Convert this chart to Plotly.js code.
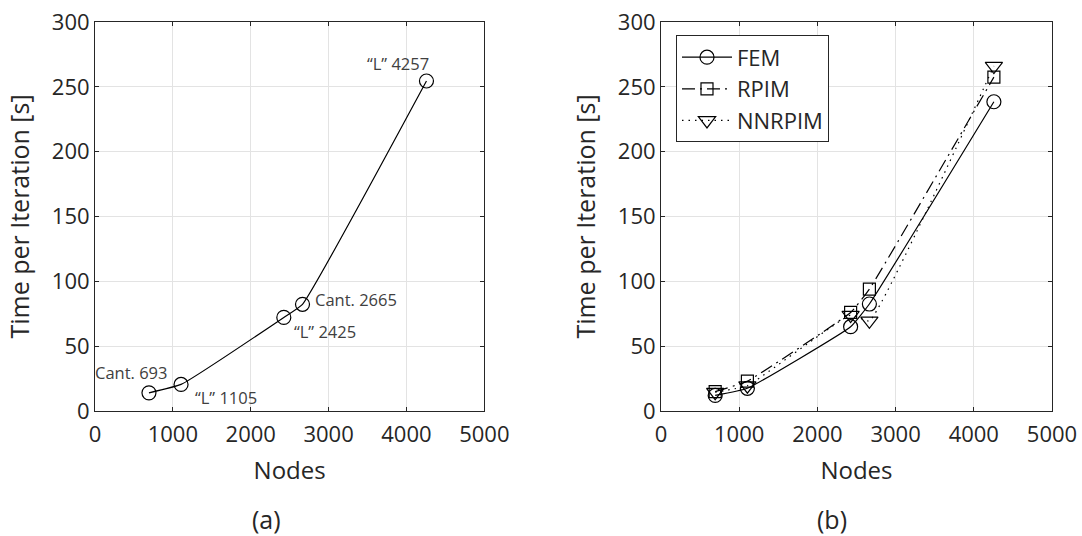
<!DOCTYPE html>
<html>
<head>
<meta charset="utf-8">
<script src="https://cdn.plot.ly/plotly-3.0.1.min.js"></script>
<style>
  html, body { margin: 0; padding: 0; background: #ffffff; }
  #chart { width: 1082px; height: 536px; }
</style>
</head>
<body>
<div id="chart"></div>
<script>
// (a) time per iteration for each model
const caseNodes = [693, 1105, 2425, 2665, 4257];
const caseTime = [14, 20.5, 72.2, 82.3, 254.5];
const caseNames = ['Cant.', '\u201CL\u201D', '\u201CL\u201D', 'Cant.', '\u201CL\u201D'];

// (b) comparison of the three methods
const nodes = [693, 1105, 2425, 2665, 4257];
const femTime = [12, 17.5, 65, 82.5, 238.5];
const rpimTime = [15, 23, 76, 94, 257.5];
const nnrpimTime = [14.5, 19.5, 74, 69.5, 266];

const xTicks = [0, 1000, 2000, 3000, 4000, 5000];
const yTicks = [0, 50, 100, 150, 200, 250, 300];

const ink = '#262626';
const fontFamily = '"Open Sans", "Noto Sans", sans-serif';

// label offsets (pixels) relative to each point in (a)
const labelShift = [[-17, 20], [45, -13], [41, -14], [53, 5], [-28, 18]];

const lineStyle = {color: '#000000', width: 1.2, shape: 'spline', smoothing: 0.35};

const traces = [
  {
    x: caseNodes, y: caseTime, xaxis: 'x', yaxis: 'y',
    mode: 'lines+markers', showlegend: false,
    line: Object.assign({}, lineStyle),
    marker: {symbol: 'circle-open', size: 14, color: '#000000', line: {width: 1.2}}
  },
  {
    x: nodes, y: femTime, xaxis: 'x2', yaxis: 'y2', name: 'FEM', legendgroup: 'g1',
    mode: 'lines+markers',
    line: Object.assign({}, lineStyle),
    marker: {symbol: 'circle-open', size: 14, color: '#000000', line: {width: 1.2}}
  },
  {
    x: nodes, y: rpimTime, xaxis: 'x2', yaxis: 'y2', name: 'RPIM', legendgroup: 'g2',
    mode: 'lines+markers',
    line: Object.assign({}, lineStyle, {dash: '13px,5px,2px,5px'}),
    marker: {symbol: 'square-open', size: 12, color: '#000000', line: {width: 1.2}}
  },
  {
    x: nodes, y: nnrpimTime, xaxis: 'x2', yaxis: 'y2', name: 'NNRPIM', legendgroup: 'g3',
    mode: 'lines+markers',
    line: Object.assign({}, lineStyle, {dash: '1.5px,5px'}),
    marker: {symbol: 'triangle-down-open', size: 15, color: '#000000', line: {width: 1.2}}
  }
];

function xAxis(domain, anchor) {
  return {
    domain: domain, anchor: anchor, range: [0, 5000],
    tickvals: xTicks, ticktext: xTicks.map(String),
    ticks: 'inside', ticklen: 4, tickcolor: ink, tickwidth: 1,
    ticklabelstandoff: 4,
    showline: true, linecolor: ink, linewidth: 1, mirror: 'ticks',
    showgrid: true, gridcolor: '#e3e3e3', gridwidth: 1, zeroline: false,
    tickfont: {family: fontFamily, size: 22, color: ink},
    title: {text: 'Nodes', font: {family: fontFamily, size: 24, color: ink}, standoff: 14},
    automargin: false, fixedrange: true
  };
}
function yAxis(anchor) {
  return {
    domain: [0, 1], anchor: anchor, range: [0, 300],
    tickvals: yTicks, ticktext: yTicks.map(String),
    ticks: 'inside', ticklen: 4, tickcolor: ink, tickwidth: 1,
    showline: true, linecolor: ink, linewidth: 1, mirror: 'ticks',
    showgrid: true, gridcolor: '#e3e3e3', gridwidth: 1, zeroline: false,
    tickfont: {family: fontFamily, size: 22, color: ink},
    title: {text: 'Time per Iteration [s]', font: {family: fontFamily, size: 25, color: ink}, standoff: 15},
    automargin: false, fixedrange: true
  };
}

const annotations = caseNodes.map((n, i) => ({
  x: n, y: caseTime[i], xref: 'x', yref: 'y',
  text: caseNames[i] + ' ' + n, showarrow: false,
  xshift: labelShift[i][0], yshift: labelShift[i][1],
  font: {family: fontFamily, size: 16.5, color: '#404040'}
}));
annotations.push(
  {x: 0.1793, y: -0.2776, xref: 'paper', yref: 'paper', xanchor: 'center', yanchor: 'middle',
   text: '(a)', showarrow: false, font: {family: fontFamily, size: 25, color: ink}},
  {x: 0.7701, y: -0.2776, xref: 'paper', yref: 'paper', xanchor: 'center', yanchor: 'middle',
   text: '(b)', showarrow: false, font: {family: fontFamily, size: 25, color: ink}}
);

const layout = {
  width: 1082, height: 536,
  margin: {l: 95, r: 30, t: 22, b: 125},
  paper_bgcolor: '#ffffff', plot_bgcolor: '#ffffff',
  font: {family: fontFamily, color: ink},
  xaxis: xAxis([0, 0.4068], 'y'),
  yaxis: yAxis('x'),
  xaxis2: xAxis([0.5914, 1.0], 'y2'),
  yaxis2: yAxis('x2'),
  showlegend: true,
  legend: {
    x: 0.6071, y: 0.9655, xanchor: 'left', yanchor: 'top',
    bgcolor: '#ffffff', bordercolor: ink, borderwidth: 1,
    font: {family: fontFamily, size: 22, color: ink},
    tracegroupgap: 0, itemwidth: 50
  },
  annotations: annotations
};

Plotly.newPlot('chart', traces, layout, {displayModeBar: false, staticPlot: true});
</script>
</body>
</html>
